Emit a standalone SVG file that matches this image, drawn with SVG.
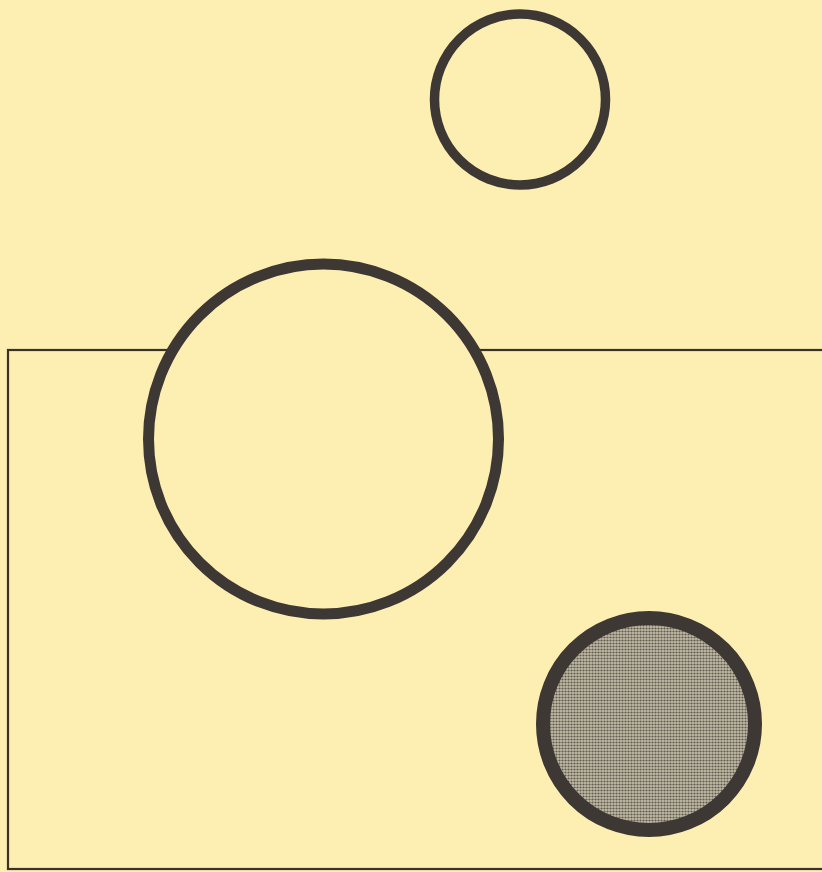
<svg xmlns="http://www.w3.org/2000/svg" width="822" height="872" viewBox="0 0 822 872">
<defs>
<style>
.ring{fill:#fdeeb2;stroke:#3d3833}
.frame{fill:none;stroke:#3a3128;stroke-width:2.2}
</style>
<pattern id="dots" width="3" height="3" patternUnits="userSpaceOnUse">
<rect width="3" height="3" fill="#c2baa4"/>
<circle cx="1.5" cy="1.5" r="1.1" fill="#5f5a52"/>
</pattern>
</defs>
<rect width="822" height="872" fill="#fdeeb2"/>
<rect id="frame" class="frame" x="8" y="350" width="830" height="519"/>
<g id="small-circle"><circle class="ring" cx="520" cy="99.5" r="85.5" stroke-width="9.5"/></g>
<g id="large-circle"><circle class="ring" cx="323.5" cy="439" r="175" stroke-width="11"/></g>
<g id="shaded-circle"><circle cx="649" cy="724" r="106" fill="url(#dots)" stroke="#3d3833" stroke-width="14"/></g>
<g id="connectors"/>
</svg>
